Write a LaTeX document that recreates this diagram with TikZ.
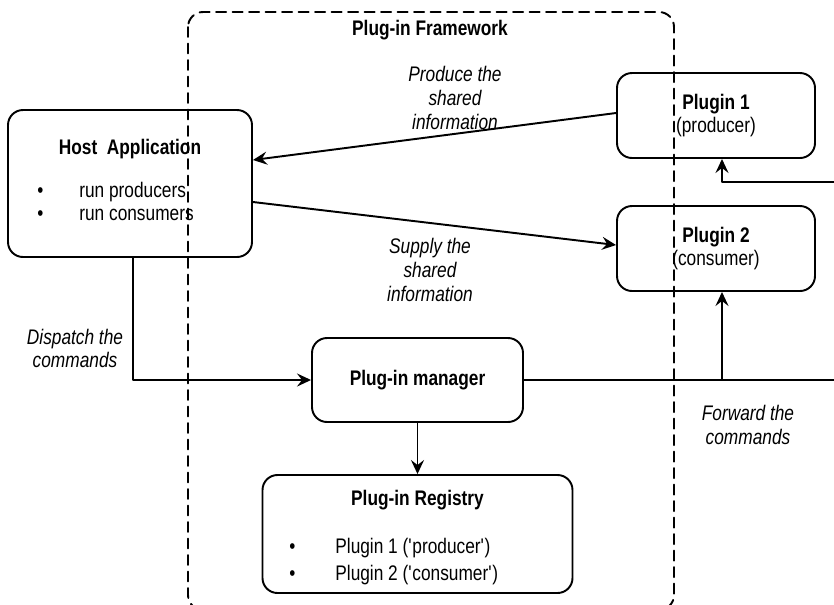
\documentclass[tikz,border=0pt]{standalone}
\usepackage{fontspec}
\setmainfont[FakeStretch=0.82]{Liberation Sans}
\usetikzlibrary{arrows.meta}
\begin{document}
\begin{tikzpicture}[line cap=round,line join=round,
    every node/.style={font=\fontsize{12}{13.6}\selectfont},
    box/.style={draw,line width=1.1pt,rounded corners=0.3cm,align=center},
    link/.style={line width=1.1pt,-{Stealth[length=2.8mm,width=2.6mm,inset=1mm]}},
    note/.style={align=center,font=\fontsize{12}{13.6}\selectfont\itshape}]
  \useasboundingbox (0,0) rectangle (16.68,-12.08);
  % framework
  \draw[line width=1.1pt,dash pattern=on 0.2cm off 0.13cm,rounded corners=0.3cm]
    (3.76,-0.24) rectangle (13.48,-12.2);
  \node[font=\fontsize{12}{13.6}\selectfont\bfseries] (fwtitle) at (8.6,-0.6) {Plug-in Framework};
  % boxes
  \node[box,minimum width=4.88cm,minimum height=2.94cm] (host) at (2.6,-3.67)
    {\textbf{Host\ \ Application}\\[0.4cm]
     \begin{tabular}{@{}l@{\hspace{0.72cm}}l@{}}\textbullet & run producers\\ \textbullet & run consumers\end{tabular}\hspace*{0.58cm}};
  \node[box,minimum width=3.96cm,minimum height=1.7cm] (p1) at (14.32,-2.31)
    {\textbf{Plugin 1}\\(producer)};
  \node[box,minimum width=3.96cm,minimum height=1.7cm] (p2) at (14.32,-4.97)
    {\textbf{Plugin 2}\\(consumer)};
  \node[box,minimum width=4.22cm,minimum height=1.68cm,font=\fontsize{12}{13.6}\selectfont\bfseries] (mgr) at (8.35,-7.6)
    {Plug-in manager};
  \node[box,minimum width=6.2cm,minimum height=2.36cm,text depth=0.2cm] (reg) at (8.35,-10.68)
    {\textbf{Plug-in Registry}\\[0.5cm]
     \begin{tabular}{@{}l@{\hspace{0.8cm}}l@{}}\textbullet & Plugin 1 (\textquotesingle producer\textquotesingle)\\[0.06cm]
       \textbullet & Plugin 2 (\textquotesingle consumer\textquotesingle)\end{tabular}\hspace*{0.95cm}};
  % connectors
  \coordinate (fwdout) at (16.68,-7.6);
  \coordinate (fwdin) at (16.68,-3.64);
  \coordinate (p1in) at ([xshift=0.12cm]p1.south);
  \coordinate (p2in) at ([xshift=0.12cm]p2.south);
  \draw[link] ([yshift=0.05cm]p1.west) -- ([yshift=0.47cm]host.east);
  \draw[link] ([yshift=-0.37cm]host.east) -- ([yshift=0.07cm]p2.west);
  \draw[link] ([xshift=0.06cm]host.south) |- (mgr.west);
  \draw[line width=1.1pt] (mgr.east) -- (fwdout);
  \draw[link] (p2in |- fwdout) -- (p2in);
  \draw[link] (fwdin) -| (p1in);
  \draw[link] (mgr.south) -- (reg.north);
  % labels
  \node[note] (lprod) at (9.1,-1.96) {Produce the\\shared\\information};
  \node[note] (lsup) at (8.6,-5.4) {Supply the\\shared\\information};
  \node[note] (ldisp) at (1.5,-6.97) {Dispatch the\\commands};
  \node[note] (lfwd) at (14.96,-8.5) {Forward the\\commands};
\end{tikzpicture}
\end{document}
